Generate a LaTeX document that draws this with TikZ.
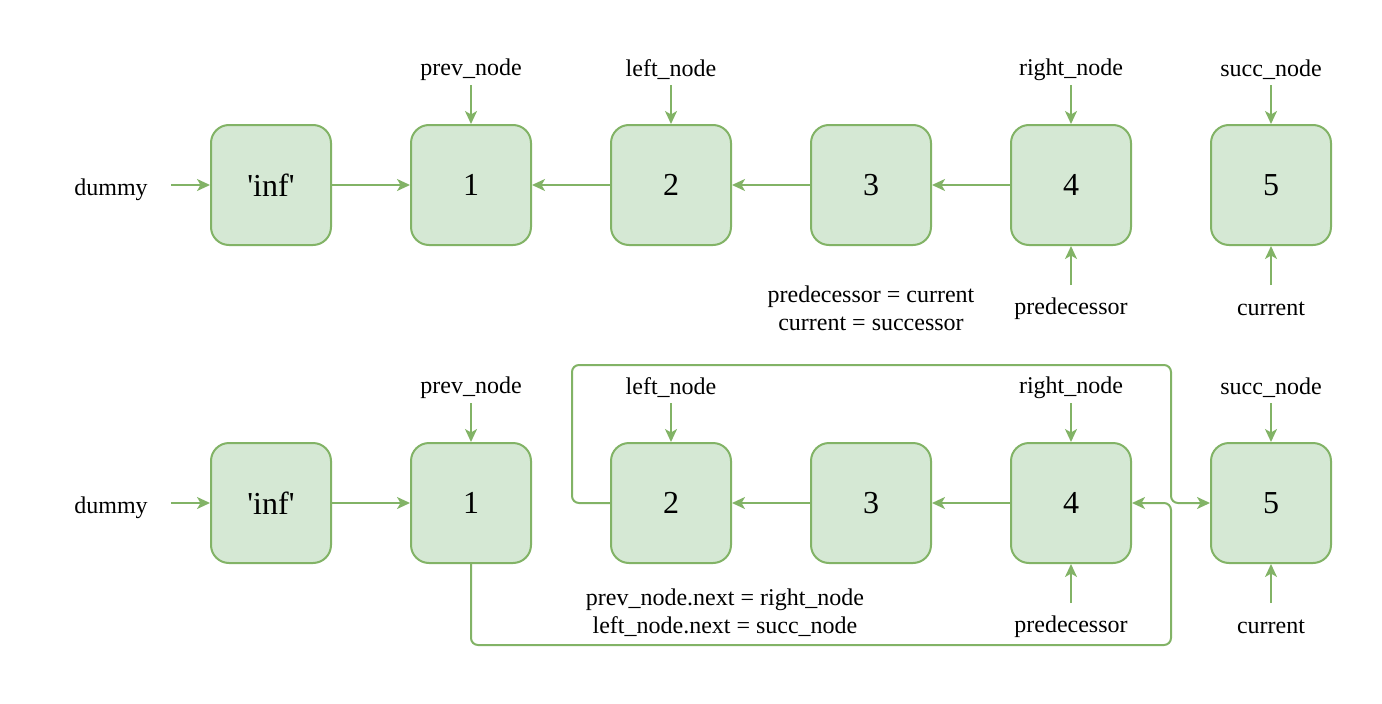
\documentclass[tikz,border=0pt]{standalone}
\usepackage{fontspec}
\setmainfont{Liberation Serif}
\usetikzlibrary{arrows.meta}
\definecolor{gstroke}{HTML}{82B366}
\definecolor{gfill}{HTML}{D5E8D4}
\begin{document}
\begin{tikzpicture}[x=1pt,y=-1pt,
  box/.style={draw=gstroke,fill=gfill,line width=2pt,rounded corners=18pt,minimum width=120pt,minimum height=120pt,inner sep=0pt,font=\fontsize{32}{36}\selectfont},
  lbl/.style={inner sep=0pt,font=\fontsize{24}{28}\selectfont},
  note/.style={inner sep=0pt,align=center,font=\fontsize{24}{28}\selectfont},
  arr/.style={draw=gstroke,line width=2pt,-{Stealth[length=13pt,width=12pt,inset=3.5pt]}},
  link/.style={draw=gstroke,line width=2pt,rounded corners=7pt,-{Stealth[length=13pt,width=12pt,inset=3.5pt]}}]
\useasboundingbox (0,0) rectangle (1382,704);
% ---------- row 1 ----------
\node[box] (a0) at (271,185) {\textquotesingle inf\textquotesingle};
\node[box] (a1) at (471,185) {1};
\node[box] (a2) at (671,185) {2};
\node[box] (a3) at (871,185) {3};
\node[box] (a4) at (1071,185) {4};
\node[box] (a5) at (1271,185) {5};
\node[lbl] (ad) at (111,190) {dummy};
\coordinate (adr) at (171,185);
\node[lbl] (ap) at (471,70) {prev\_node};
\node[lbl] (al) at (671,70) {left\_node};
\node[lbl] (ar) at (1071,70) {right\_node};
\node[lbl] (as) at (1271,70) {succ\_node};
\coordinate (apb) at (471,85);
\coordinate (alb) at (671,85);
\coordinate (arb) at (1071,85);
\coordinate (asb) at (1271,85);
\node[lbl] (apd) at (1071,309) {predecessor};
\node[lbl] (acu) at (1271,309) {current};
\coordinate (apdt) at (1071,285);
\coordinate (acut) at (1271,285);
\node[note] (an) at (871,308) {predecessor = current\\current = successor};
\draw[arr] (adr) -- (a0.west);
\draw[arr] (a0.east) -- (a1.west);
\draw[arr] (a2.west) -- (a1.east);
\draw[arr] (a3.west) -- (a2.east);
\draw[arr] (a4.west) -- (a3.east);
\draw[arr] (apb) -- (a1.north);
\draw[arr] (alb) -- (a2.north);
\draw[arr] (arb) -- (a4.north);
\draw[arr] (asb) -- (a5.north);
\draw[arr] (apdt) -- (a4.south);
\draw[arr] (acut) -- (a5.south);
% ---------- row 2 ----------
\node[box] (b0) at (271,503) {\textquotesingle inf\textquotesingle};
\node[box] (b1) at (471,503) {1};
\node[box] (b2) at (671,503) {2};
\node[box] (b3) at (871,503) {3};
\node[box] (b4) at (1071,503) {4};
\node[box] (b5) at (1271,503) {5};
\node[lbl] (bd) at (111,508) {dummy};
\coordinate (bdr) at (171,503);
\node[lbl] (bp) at (471,388) {prev\_node};
\node[lbl] (bl) at (671,388) {left\_node};
\node[lbl] (br) at (1071,388) {right\_node};
\node[lbl] (bs) at (1271,388) {succ\_node};
\coordinate (bpb) at (471,403);
\coordinate (blb) at (671,403);
\coordinate (brb) at (1071,403);
\coordinate (bsb) at (1271,403);
\node[lbl] (bpd) at (1071,627) {predecessor};
\node[lbl] (bcu) at (1271,627) {current};
\coordinate (bpdt) at (1071,603);
\coordinate (bcut) at (1271,603);
\node[note] (bn) at (725,613) {prev\_node.next = right\_node\\left\_node.next = succ\_node};
\draw[arr] (bdr) -- (b0.west);
\draw[arr] (b0.east) -- (b1.west);
\draw[arr] (b3.west) -- (b2.east);
\draw[arr] (b4.west) -- (b3.east);
\draw[arr] (bpb) -- (b1.north);
\draw[arr] (blb) -- (b2.north);
\draw[arr] (brb) -- (b4.north);
\draw[arr] (bsb) -- (b5.north);
\draw[arr] (bpdt) -- (b4.south);
\draw[arr] (bcut) -- (b5.south);
\coordinate (tl) at (572,365);
\coordinate (tr) at (1171,365);
\coordinate (bb) at (1171,645);
\draw[link] (b2.west) -| (tl) -- (tr) -- (tr |- b5.west) -- (b5.west);
\draw[link] (b1.south) |- (bb) -- (bb |- b4.east) -- (b4.east);
\end{tikzpicture}
\end{document}
